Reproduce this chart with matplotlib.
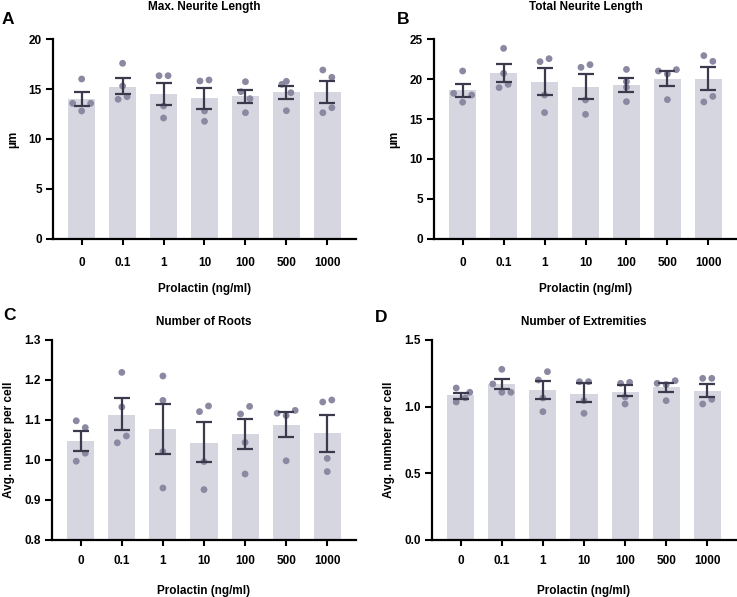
import matplotlib
matplotlib.use("Agg")
import matplotlib.pyplot as plt
import numpy as np

plt.rcParams['font.family'] = ['Liberation Sans', 'DejaVu Sans']
plt.rcParams['font.weight'] = 'bold'

categories = ["0", "0.1", "1", "10", "100", "500", "1000"]

# Panel A: Max. Neurite Length
a_means = [13.97, 15.23, 14.47, 14.07, 14.27, 14.67, 14.67]
a_sem_hi = [14.73, 16.07, 15.60, 15.13, 14.93, 15.33, 15.77]
a_sem_lo = [13.27, 14.47, 13.40, 13.00, 13.63, 14.03, 13.63]
a_points = [[16.0, 13.57, 13.57, 12.8], [17.57, 15.3, 13.97, 14.23],
            [16.33, 16.33, 13.3, 12.1], [15.8, 15.9, 12.8, 11.77],
            [15.73, 14.73, 14.03, 12.63], [15.77, 15.47, 14.63, 12.83],
            [16.9, 16.17, 13.13, 12.63]]

# Panel B: Total Neurite Length
b_means = [18.63, 20.71, 19.63, 19.0, 19.25, 20.0, 20.0]
b_sem_hi = [19.42, 21.83, 21.33, 20.58, 20.17, 21.0, 21.5]
b_sem_lo = [17.75, 19.67, 18.0, 17.5, 18.42, 19.17, 18.58]
b_points = [[21.0, 18.21, 18.0, 17.1], [23.83, 20.71, 18.92, 19.33],
            [22.17, 22.54, 18.0, 15.8], [21.46, 21.79, 17.38, 15.58],
            [21.2, 19.67, 18.96, 17.17], [21.0, 21.17, 20.63, 17.42],
            [22.92, 22.21, 17.83, 17.13]]

# Panel C: Number of Roots
c_means = [1.047, 1.113, 1.077, 1.043, 1.064, 1.0875, 1.067]
c_sem_hi = [1.073, 1.154, 1.141, 1.095, 1.103, 1.120, 1.113]
c_sem_lo = [1.023, 1.074, 1.015, 0.994, 1.027, 1.058, 1.021]
c_points = [[1.098, 1.081, 1.017, 0.997], [1.219, 1.1325, 1.043, 1.06],
            [1.21, 1.149, 1.021, 0.93], [1.121, 1.135, 0.996, 0.926],
            [1.115, 1.134, 1.044, 0.965], [1.117, 1.124, 1.111, 0.998],
            [1.145, 1.15, 1.004, 0.971]]

# Panel D: Number of Extremities
d_means = [1.0875, 1.168, 1.1225, 1.0925, 1.1125, 1.145, 1.1175]
d_sem_hi = [1.105, 1.2075, 1.19, 1.175, 1.16, 1.175, 1.17]
d_sem_lo = [1.0575, 1.1325, 1.0575, 1.035, 1.0775, 1.11, 1.075]
d_points = [[1.14, 1.108, 1.035, 1.067], [1.28, 1.17, 1.108, 1.108],
            [1.2, 1.2625, 0.9625, 1.065], [1.1875, 1.1875, 0.95, 1.045],
            [1.175, 1.1825, 1.02, 1.0725], [1.175, 1.195, 1.045, 1.165],
            [1.2125, 1.2125, 1.055, 1.02]]

# horizontal scatter offsets (layout only)
a_off = [[0, -.22, .22, 0], [0, 0, -.11, .11], [-.11, .11, 0, 0], [-.11, .11, 0, 0],
         [0, -.11, .11, 0], [0, -.11, .11, 0], [-.11, .11, .11, -.11]]
b_off = [[0, -.22, .22, 0], [0, 0, -.11, .11], [-.11, .11, 0, 0], [-.11, .11, 0, 0],
         [0, 0, 0, 0], [-.22, .22, 0, 0], [-.11, .11, .11, -.11]]
c_off = [[-.11, .11, .11, -.11], [0, 0, -.11, .11], [0, 0, 0, 0], [-.11, .11, 0, 0],
         [-.11, .11, 0, 0], [-.22, .22, 0, 0], [-.11, .11, 0, 0]]
d_off = [[-.11, .22, -.11, .11], [0, -.22, 0, .22], [-.11, .11, 0, 0], [-.11, .11, 0, 0],
         [-.11, .11, 0, 0], [-.22, .22, 0, 0], [-.11, .11, .11, -.11]]

BAR = '#d6d6e0'
PT = '#8a89a1'
ERR = '#3a3a4c'

W, H = 737, 597
fig = plt.figure(figsize=(W / 100, H / 100), dpi=100)


def make_ax(left, top, right, bottom):
    return fig.add_axes([left / W, 1 - bottom / H, (right - left) / W, (bottom - top) / H])


panels = [
    dict(box=(53, 39, 356, 239), means=a_means, hi=a_sem_hi, lo=a_sem_lo, pts=a_points, off=a_off,
         ylim=(0, 20), yticks=[0, 5, 10, 15, 20], fmt='{:.0f}', ylabel='µm',
         title='Max. Neurite Length', tpad=21, letter='A', lpos=(2, 19), xpad=9, lpad=10),
    dict(box=(434, 39, 737, 239), means=b_means, hi=b_sem_hi, lo=b_sem_lo, pts=b_points, off=b_off,
         ylim=(0, 25), yticks=[0, 5, 10, 15, 20, 25], fmt='{:.0f}', ylabel='µm',
         title='Total Neurite Length', tpad=21, letter='B', lpos=(397, 19), xpad=9, lpad=10),
    dict(box=(52, 340, 356, 540), means=c_means, hi=c_sem_hi, lo=c_sem_lo, pts=c_points, off=c_off,
         ylim=(0.8, 1.3), yticks=[0.8, 0.9, 1.0, 1.1, 1.2, 1.3], fmt='{:.1f}', ylabel='Avg. number per cell',
         title='Number of Roots', tpad=10.5, letter='C', lpos=(3, 316), xpad=7, lpad=13),
    dict(box=(432, 340, 736, 540), means=d_means, hi=d_sem_hi, lo=d_sem_lo, pts=d_points, off=d_off,
         ylim=(0, 1.5), yticks=[0, 0.5, 1.0, 1.5], fmt='{:.1f}', ylabel='Avg. number per cell',
         title='Number of Extremities', tpad=10.5, letter='D', lpos=(375, 317), xpad=7, lpad=13),
]

FS = 8.5
x = np.arange(len(categories))
for p in panels:
    ax = make_ax(*p['box'])
    means = np.array(p['means'])
    ax.bar(x, means, width=0.66, color=BAR, zorder=1)
    for i, (vals, offs) in enumerate(zip(p['pts'], p['off'])):
        ax.scatter(np.full(len(vals), i) + np.array(offs), vals, s=24, color=PT,
                   edgecolors='none', zorder=2, clip_on=False)
    yerr = np.array([means - np.array(p['lo']), np.array(p['hi']) - means])
    ax.errorbar(x, means, yerr=yerr, fmt='none', ecolor=ERR, elinewidth=1.6,
                capsize=5.5, capthick=1.6, zorder=3)
    ax.set_xlim(-0.7, 6.7)
    ax.set_ylim(*p['ylim'])
    ax.set_yticks(p['yticks'])
    ax.set_yticklabels([p['fmt'].format(v) for v in p['yticks']], fontsize=FS, fontweight='bold')
    ax.set_xticks(x)
    ax.set_xticklabels(categories, fontsize=FS, fontweight='bold')
    ax.tick_params(axis='y', length=5, width=1.5, pad=3)
    ax.tick_params(axis='x', length=4, width=1.5, pad=p['xpad'])
    for s in ['top', 'right']:
        ax.spines[s].set_visible(False)
    for s in ['left', 'bottom']:
        ax.spines[s].set_linewidth(1.6)
    ax.set_xlabel('Prolactin (ng/ml)', fontsize=FS, fontweight='bold', labelpad=p['lpad'])
    ax.set_ylabel(p['ylabel'], fontsize=FS, fontweight='bold', labelpad=7)
    ax.set_title(p['title'], fontsize=FS, fontweight='bold', pad=p['tpad'])
    fig.text(p['lpos'][0] / W, 1 - p['lpos'][1] / H, p['letter'], fontsize=12.5,
             fontweight='bold', ha='left', va='center')

fig.savefig('out.png', dpi=100)
